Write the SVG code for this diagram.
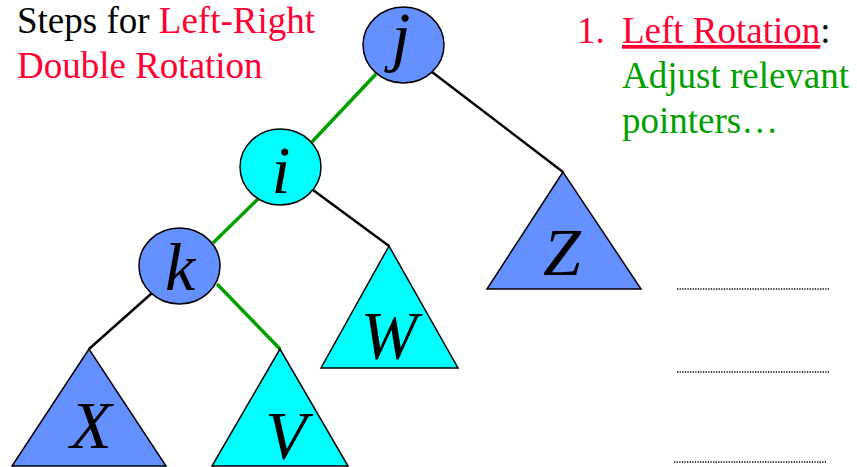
<svg xmlns="http://www.w3.org/2000/svg" width="857" height="467" viewBox="0 0 857 467">
<style>
.t{font-family:'Liberation Serif',Tinos,'Times New Roman',Times,'DejaVu Serif',serif;font-size:37px}
.red{fill:#FF0033}
.grn{fill:#00A000}
.blk{fill:#000}
.lbl{font-family:'Liberation Serif',Tinos,'Times New Roman',Times,'DejaVu Serif',serif;font-size:68px;font-style:italic;fill:#000;text-anchor:middle}
.blue{fill:#6491FF;stroke:#000;stroke-width:1.5}
.cyan{fill:#00FFFF;stroke:#000;stroke-width:1.5}
.e{stroke:#000;stroke-width:2.5;fill:none}
.g{stroke:#00A000;stroke-width:3.5;fill:none}
.dot{stroke:#000;stroke-width:1.3;stroke-dasharray:1.3 1.3;fill:none}
</style>
<rect width="857" height="467" fill="#fff"/>
<g id="title">
<text class="t" x="17" y="33"><tspan class="blk">Steps for </tspan><tspan class="red">Left-Right</tspan></text>
<text class="t red" x="17" y="78">Double Rotation</text>
</g>
<g id="step">
<text class="t red" x="577" y="43">1.</text>
<text class="t" x="622" y="43"><tspan class="red" text-decoration="underline">Left Rotation</tspan><tspan class="blk">:</tspan></text>
<text class="t grn" x="622" y="88">Adjust relevant</text>
<text class="t grn" x="622" y="133">pointers…</text>
</g>
<g id="connectors">
<line class="g" x1="376" y1="74" x2="310" y2="144"/>
<line class="e" x1="432" y1="72" x2="563" y2="172"/>
<line class="g" x1="260" y1="197" x2="213" y2="243"/>
<line class="e" x1="313" y1="190" x2="389" y2="246"/>
<line class="g" x1="217" y1="284" x2="280" y2="349"/>
<line class="e" x1="152" y1="293" x2="89" y2="349"/>
</g>
<g id="node-j">
<ellipse class="blue" cx="403.5" cy="45" rx="40.5" ry="38"/>
<text class="lbl" x="401" y="59">j</text>
</g>
<g id="node-i">
<ellipse class="cyan" cx="280.5" cy="167" rx="40.5" ry="38"/>
<text class="lbl" x="281" y="193">i</text>
</g>
<g id="node-k">
<ellipse class="blue" cx="179.5" cy="266" rx="40.5" ry="38"/>
<text class="lbl" x="180" y="290">k</text>
</g>
<g id="node-Z">
<polygon class="blue" points="563,172 487,289 641,289"/>
<text class="lbl" x="562" y="275">Z</text>
</g>
<g id="node-W">
<polygon class="cyan" points="389,246 321,368 458,368"/>
<text class="lbl" x="389" y="358">W</text>
</g>
<g id="node-X">
<polygon class="blue" points="89,349 12,466 166,466"/>
<text class="lbl" x="91" y="448">X</text>
</g>
<g id="node-V">
<polygon class="cyan" points="280,349 212,466 348,466"/>
<text class="lbl" x="286" y="458">V</text>
</g>
<g id="blanks">
<line class="dot" x1="677" y1="289" x2="829" y2="289"/>
<line class="dot" x1="677" y1="372" x2="829" y2="372"/>
<line class="dot" x1="674" y1="462" x2="826" y2="462"/>
</g>
</svg>
